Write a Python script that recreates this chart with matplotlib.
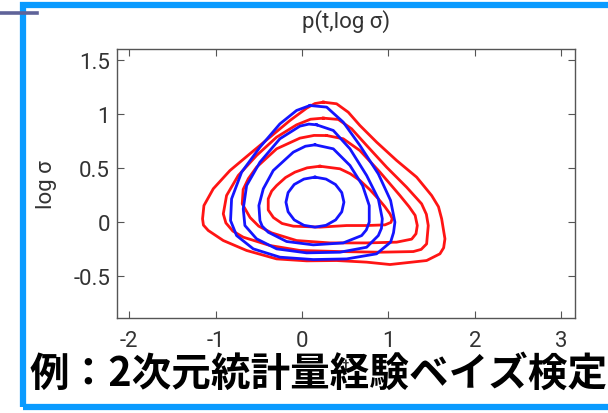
import numpy as np
import matplotlib
matplotlib.use('Agg')
import matplotlib.pyplot as plt
from matplotlib.patches import Rectangle
from matplotlib.lines import Line2D

# contour lines, (t, log sigma) pairs
# red = one density, blue = the other, inner to outer
red1_t = [0.208, 0.440, 0.560, 0.671, 0.790, 0.884, 0.960, 1.019, 1.045, 1.030, 0.961, 0.749, 0.517, 0.208, -0.100, -0.230, -0.330, -0.390, -0.390, -0.350, -0.293, -0.190, -0.081, 0.060]
red1_s = [0.515, 0.491, 0.445, 0.383, 0.295, 0.213, 0.140, 0.074, 0.030, -0.005, -0.028, -0.034, -0.034, -0.049, -0.040, -0.015, 0.040, 0.110, 0.213, 0.285, 0.336, 0.410, 0.460, 0.500]

red2_t = [0.286, 0.478, 0.671, 0.903, 1.134, 1.240, 1.310, 1.335, 1.320, 1.270, 1.096, 0.749, 0.324, -0.062, -0.351, -0.500, -0.600, -0.691, -0.680, -0.620, -0.525, -0.293, -0.023, 0.140]
red2_s = [0.799, 0.769, 0.660, 0.460, 0.244, 0.140, 0.060, -0.034, -0.110, -0.160, -0.188, -0.195, -0.195, -0.173, -0.102, -0.040, 0.040, 0.167, 0.300, 0.400, 0.506, 0.676, 0.775, 0.800]

red3_t = [0.247, 0.421, 0.575, 0.749, 0.980, 1.211, 1.385, 1.440, 1.462, 1.443, 1.380, 1.289, 0.903, 0.440, -0.023, -0.370, -0.679, -0.800, -0.880, -0.910, -0.872, -0.737, -0.525, -0.293, -0.062, 0.100]
red3_s = [0.960, 0.948, 0.861, 0.707, 0.506, 0.321, 0.167, 0.070, -0.034, -0.204, -0.255, -0.275, -0.281, -0.275, -0.265, -0.219, -0.142, -0.085, -0.010, 0.074, 0.244, 0.429, 0.614, 0.784, 0.898, 0.950]

red4_t = [0.247, 0.401, 0.536, 0.671, 0.864, 1.096, 1.327, 1.501, 1.580, 1.617, 1.655, 1.640, 1.597, 1.443, 1.019, 0.749, 0.401, 0.054, -0.293, -0.640, -0.910, -1.084, -1.140, -1.150, -1.134, -1.026, -0.833, -0.602, -0.370, -0.139, 0.054, 0.150]
red4_s = [1.108, 1.093, 1.015, 0.892, 0.738, 0.568, 0.414, 0.244, 0.140, 0.028, -0.157, -0.240, -0.296, -0.358, -0.395, -0.373, -0.358, -0.361, -0.343, -0.265, -0.173, -0.080, -0.030, 0.028, 0.151, 0.306, 0.475, 0.630, 0.784, 0.938, 1.052, 1.095]

blue1_t = [0.151, 0.279, 0.388, 0.461, 0.486, 0.461, 0.390, 0.279, 0.151, 0.023, -0.089, -0.160, -0.185, -0.160, -0.089, 0.023]
blue1_s = [0.414, 0.396, 0.346, 0.271, 0.182, 0.093, 0.018, -0.032, -0.049, -0.032, 0.018, 0.093, 0.182, 0.271, 0.346, 0.396]

blue2_t = [0.151, 0.363, 0.556, 0.702, 0.779, 0.779, 0.745, 0.691, 0.478, 0.131, -0.177, -0.390, -0.460, -0.486, -0.498, -0.447, -0.332, -0.100, 0.040]
blue2_s = [0.713, 0.676, 0.522, 0.336, 0.151, -0.003, -0.075, -0.127, -0.195, -0.213, -0.182, -0.096, -0.040, 0.012, 0.151, 0.306, 0.475, 0.645, 0.700]

blue3_t = [0.170, 0.363, 0.556, 0.749, 0.884, 0.930, 0.920, 0.884, 0.749, 0.440, 0.054, -0.293, -0.525, -0.660, -0.679, -0.640, -0.486, -0.255, -0.023, 0.080]
blue3_s = [0.898, 0.846, 0.676, 0.429, 0.213, 0.028, -0.060, -0.127, -0.235, -0.281, -0.287, -0.250, -0.157, -0.034, 0.120, 0.336, 0.552, 0.769, 0.886, 0.905]

blue4_t = [0.093, 0.286, 0.478, 0.671, 0.884, 1.026, 1.076, 1.060, 1.026, 0.864, 0.517, 0.131, -0.255, -0.563, -0.756, -0.826, -0.814, -0.698, -0.486, -0.255, -0.062]
blue4_s = [1.077, 1.062, 0.923, 0.707, 0.444, 0.198, -0.003, -0.100, -0.188, -0.296, -0.343, -0.349, -0.327, -0.250, -0.127, 0.012, 0.213, 0.460, 0.691, 0.907, 1.031]

x_ticks = [-2, -1, 0, 1, 2, 3]
y_ticks = [-0.5, 0, 0.5, 1, 1.5]

title_text = 'p(t,log σ)'
caption = '例：2次元統計量経験ベイズ検定'

plt.rcParams['font.family'] = ['Roboto', 'DejaVu Sans']

fig = plt.figure(figsize=(6.08, 4.14), dpi=100)
fig.patch.set_facecolor('white')

##############################################################################
# axes placed where the matlab box sits in the slide
ax = fig.add_axes([117/608, 1-319/414, 458/608, 269/414])

reds = [(red1_t, red1_s), (red2_t, red2_s), (red3_t, red3_s), (red4_t, red4_s)]
blues = [(blue1_t, blue1_s), (blue2_t, blue2_s), (blue3_t, blue3_s), (blue4_t, blue4_s)]
for t, s in reds:
    ax.plot(t + t[:1], s + s[:1], color='#ff1414', lw=2.0, solid_joinstyle='round')
for t, s in blues:
    ax.plot(t + t[:1], s + s[:1], color='#1414ff', lw=2.0, solid_joinstyle='round')

ax.set_xlim(-2.14, 3.16)
ax.set_ylim(-0.89, 1.60)
ax.set_xticks(x_ticks)
ax.set_yticks(y_ticks)
ax.set_xticklabels([str(v) for v in x_ticks])
ax.set_yticklabels(['-0.5', '0', '0.5', '1', '1.5'])
ax.tick_params(direction='in', length=5, width=0.8, color='#555555',
               labelsize=16, labelcolor='#333333', top=True, right=True)
ax.tick_params(axis='x', pad=9)
ax.tick_params(axis='y', pad=5)
for sp in ax.spines.values():
    sp.set_color('#555555')
    sp.set_linewidth(1.0)

ax.set_title(title_text, fontsize=16, color='#333333', pad=16)
ax.set_ylabel('log σ', fontsize=16, color='#333333')
ax.yaxis.set_label_coords(-0.131, 0.5)
ax.set_xlabel('t', fontsize=14, color='#333333', va='top')
ax.xaxis.set_label_coords(0.5, -0.145)

##############################################################################
# slide decorations: blue frame, small bar top-left, caption
fig.add_artist(Rectangle((22.5/608, 1-408/414), 1.0, (408-6)/414,
                         transform=fig.transFigure, fill=False,
                         edgecolor='#0a9bff', lw=4.5))
fig.add_artist(Line2D([0, 37/608], [1-13.5/414, 1-13.5/414],
                      transform=fig.transFigure, color='#5f6399', lw=2.6))

fig.text(30/608, 1-374/414, caption, fontsize=28.5, fontweight='bold',
         family=['Noto Sans CJK JP', 'DejaVu Sans'], color='black',
         ha='left', va='center', zorder=10)

plt.savefig('out.png', dpi=100)
